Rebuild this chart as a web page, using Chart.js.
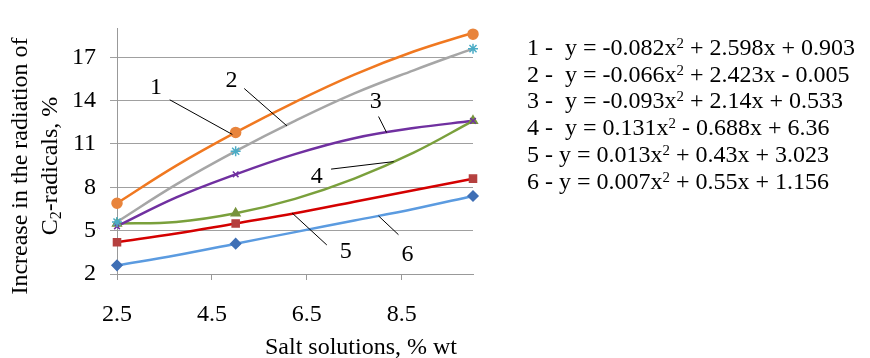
<!DOCTYPE html>
<html>
<head>
<meta charset="utf-8">
<script src="https://cdn.jsdelivr.net/npm/chart.js@4/dist/chart.umd.min.js"></script>
<style>
  html, body { margin: 0; padding: 0; background: #fff; }
  #wrap { position: relative; width: 870px; height: 358px; }
  #eq { position: absolute; left: 527px; top: 34px; font-family: 'Liberation Serif', 'Times New Roman', serif; font-size: 24px; line-height: 26.7px; color: #000; white-space: pre; }
  #eq sup { font-size: 0.62em; line-height: 0; vertical-align: 0.5em; }
</style>
</head>
<body>
<div id="wrap">
  <canvas id="c" width="870" height="358"></canvas>
  <div id="eq"></div>
</div>
<script>
// ---- data ----
// measured points (markers)
const xValues = [2.5, 5, 10];
const series1 = [6.9, 11.8, 18.6];
const series2 = [5.6, 10.5, 17.6];
const series3 = [5.3, 8.9, 12.6];
const series4 = [5.5, 6.2, 12.6];
const series5 = [4.2, 5.5, 8.6];
const series6 = [2.6, 4.1, 7.4];
// trend curves
const trendX = [2.5, 3.75, 5, 6.25, 7.5, 8.75, 10];
const trend1 = [6.9, 9.5, 11.8, 13.9, 15.8, 17.4, 18.7];
const trend2 = [5.6, 8.2, 10.5, 12.6, 14.5, 16.1, 17.6];
const trend3 = [5.3, 7.3, 8.9, 10.3, 11.4, 12.1, 12.6];
const trend4 = [5.5, 5.6, 6.2, 7.2, 8.6, 10.4, 12.6];
const trend5 = [4.2, 4.8, 5.5, 6.2, 7.0, 7.8, 8.6];
const trend6 = [2.6, 3.3, 4.1, 4.9, 5.7, 6.5, 7.4];
const seriesNames = ['1', '2', '3', '4', '5', '6'];
const xTickLabels = [2.5, 4.5, 6.5, 8.5];
const yTickLabels = [2, 5, 8, 11, 14, 17];
const equations = [
  ['1 -  y = -0.082x', '2', ' + 2.598x + 0.903'],
  ['2 -  y = -0.066x', '2', ' + 2.423x - 0.005'],
  ['3 -  y = -0.093x', '2', ' + 2.14x + 0.533'],
  ['4 -  y = 0.131x', '2', ' - 0.688x + 6.36'],
  ['5 - y = 0.013x', '2', ' + 0.43x + 3.023'],
  ['6 - y = 0.007x', '2', ' + 0.55x + 1.156']
];
// label annotations in data units: [text x, text y, line x1, y1, x2, y2]
const labelNotes = [
  [3.32, 14.9, 3.61, 14.06, 4.93, 11.66],
  [4.91, 15.36, 5.18, 14.84, 6.08, 12.25],
  [7.95, 13.93, 8.01, 12.9, 8.18, 11.79],
  [6.71, 8.74, 7.01, 9.26, 8.33, 9.78],
  [7.32, 3.56, 6.92, 4.01, 6.19, 6.22],
  [8.62, 3.36, 8.43, 4.72, 8.01, 6.02]
];

const eqDiv = document.getElementById('eq');
eqDiv.innerHTML = equations.map(e => e[0] + '<sup>' + e[1] + '</sup>' + e[2]).join('\n');

const FONT = "'Liberation Serif', 'Times New Roman', serif";
const styles = [
  { line: '#F07820', point: '#E8843C', style: 'circle', r: 5 },
  { line: '#A6A6A6', point: '#4BACC6', style: 'star', r: 5 },
  { line: '#7030A0', point: '#7030A0', style: 'crossRot', r: 4 },
  { line: '#7AA03C', point: '#77933C', style: 'triangle', r: 5 },
  { line: '#D40000', point: '#B5403F', style: 'rect', r: 5 },
  { line: '#5B9BE0', point: '#3F6FB5', style: 'rectRot', r: 5 }
];
const allSeries = [series1, series2, series3, series4, series5, series6];
const allTrends = [trend1, trend2, trend3, trend4, trend5, trend6];

const trendSets = allTrends.map((s, i) => ({
  label: 'trend ' + seriesNames[i],
  data: s.map((v, j) => ({ x: trendX[j], y: v })),
  showLine: true,
  tension: 0.4,
  borderColor: styles[i].line,
  borderWidth: 2.5,
  pointRadius: 0,
  clip: false,
  order: 2
}));
const markerSets = allSeries.map((s, i) => ({
  label: seriesNames[i],
  data: s.map((v, j) => ({ x: xValues[j], y: v })),
  showLine: false,
  pointStyle: styles[i].style,
  pointRadius: styles[i].r,
  pointBackgroundColor: styles[i].point,
  pointBorderColor: styles[i].point,
  pointBorderWidth: 1.5,
  clip: false,
  order: 1
}));

const overlay = {
  id: 'overlay',
  afterDatasetsDraw(chart) {
    const ctx = chart.ctx;
    const xs = chart.scales.x, ys = chart.scales.y;
    ctx.save();
    ctx.fillStyle = '#000';
    ctx.strokeStyle = '#000';
    ctx.lineWidth = 1;
    ctx.font = '24px ' + FONT;
    ctx.textAlign = 'center';
    ctx.textBaseline = 'middle';
    labelNotes.forEach((n, i) => {
      ctx.fillText(seriesNames[i], xs.getPixelForValue(n[0]), ys.getPixelForValue(n[1]));
      ctx.beginPath();
      ctx.moveTo(xs.getPixelForValue(n[2]), ys.getPixelForValue(n[3]));
      ctx.lineTo(xs.getPixelForValue(n[4]), ys.getPixelForValue(n[5]));
      ctx.stroke();
    });
    // x title
    ctx.font = '24px ' + FONT;
    ctx.textBaseline = 'alphabetic';
    ctx.fillText('Salt solutions, % wt', 361, 354);
    // y title
    ctx.translate(0, 166);
    ctx.rotate(-Math.PI / 2);
    ctx.textAlign = 'center';
    ctx.textBaseline = 'middle';
    ctx.fillText('Increase in the radiation of', 0, 21);
    const a = 'C', b = '2', c = '-radicals, %';
    ctx.font = '24px ' + FONT;
    const wa = ctx.measureText(a).width, wc = ctx.measureText(c).width;
    ctx.font = '16px ' + FONT;
    const wb = ctx.measureText(b).width;
    const total = wa + wb + wc;
    let x0 = -total / 2;
    ctx.textAlign = 'left';
    ctx.font = '24px ' + FONT;
    ctx.fillText(a, x0, 51);
    ctx.font = '16px ' + FONT;
    ctx.fillText(b, x0 + wa, 57);
    ctx.font = '24px ' + FONT;
    ctx.fillText(c, x0 + wa + wb, 51);
    ctx.restore();
  }
};

new Chart(document.getElementById('c'), {
  type: 'scatter',
  data: { datasets: [...trendSets, ...markerSets] },
  plugins: [overlay],
  options: {
    responsive: false,
    animation: false,
    layout: { padding: { left: 0, top: 12, right: 397, bottom: 0 } },
    plugins: { legend: { display: false }, tooltip: { enabled: false } },
    scales: {
      x: {
        type: 'linear',
        min: 2.5, max: 10,
        afterBuildTicks: s => { s.ticks = xTickLabels.map(v => ({ value: v })); },
        afterFit: s => { s.height = 84; },
        ticks: { color: '#000', font: { family: FONT, size: 24 }, padding: 20, maxRotation: 0, callback: v => String(v) },
        grid: { drawOnChartArea: false, drawTicks: true, tickLength: 6, color: '#999', lineWidth: 1 },
        border: { color: '#999', width: 1 }
      },
      y: {
        type: 'linear',
        min: 2, max: 19,
        afterBuildTicks: s => { s.ticks = yTickLabels.map(v => ({ value: v })); },
        afterFit: s => { s.width = 117; },
        ticks: { color: '#000', font: { family: FONT, size: 24 }, padding: 14, callback: v => String(v) },
        grid: { color: '#A0A0A0', lineWidth: 1, drawTicks: true, tickLength: 7 },
        border: { color: '#999', width: 1 }
      }
    }
  }
});
</script>
</body>
</html>
